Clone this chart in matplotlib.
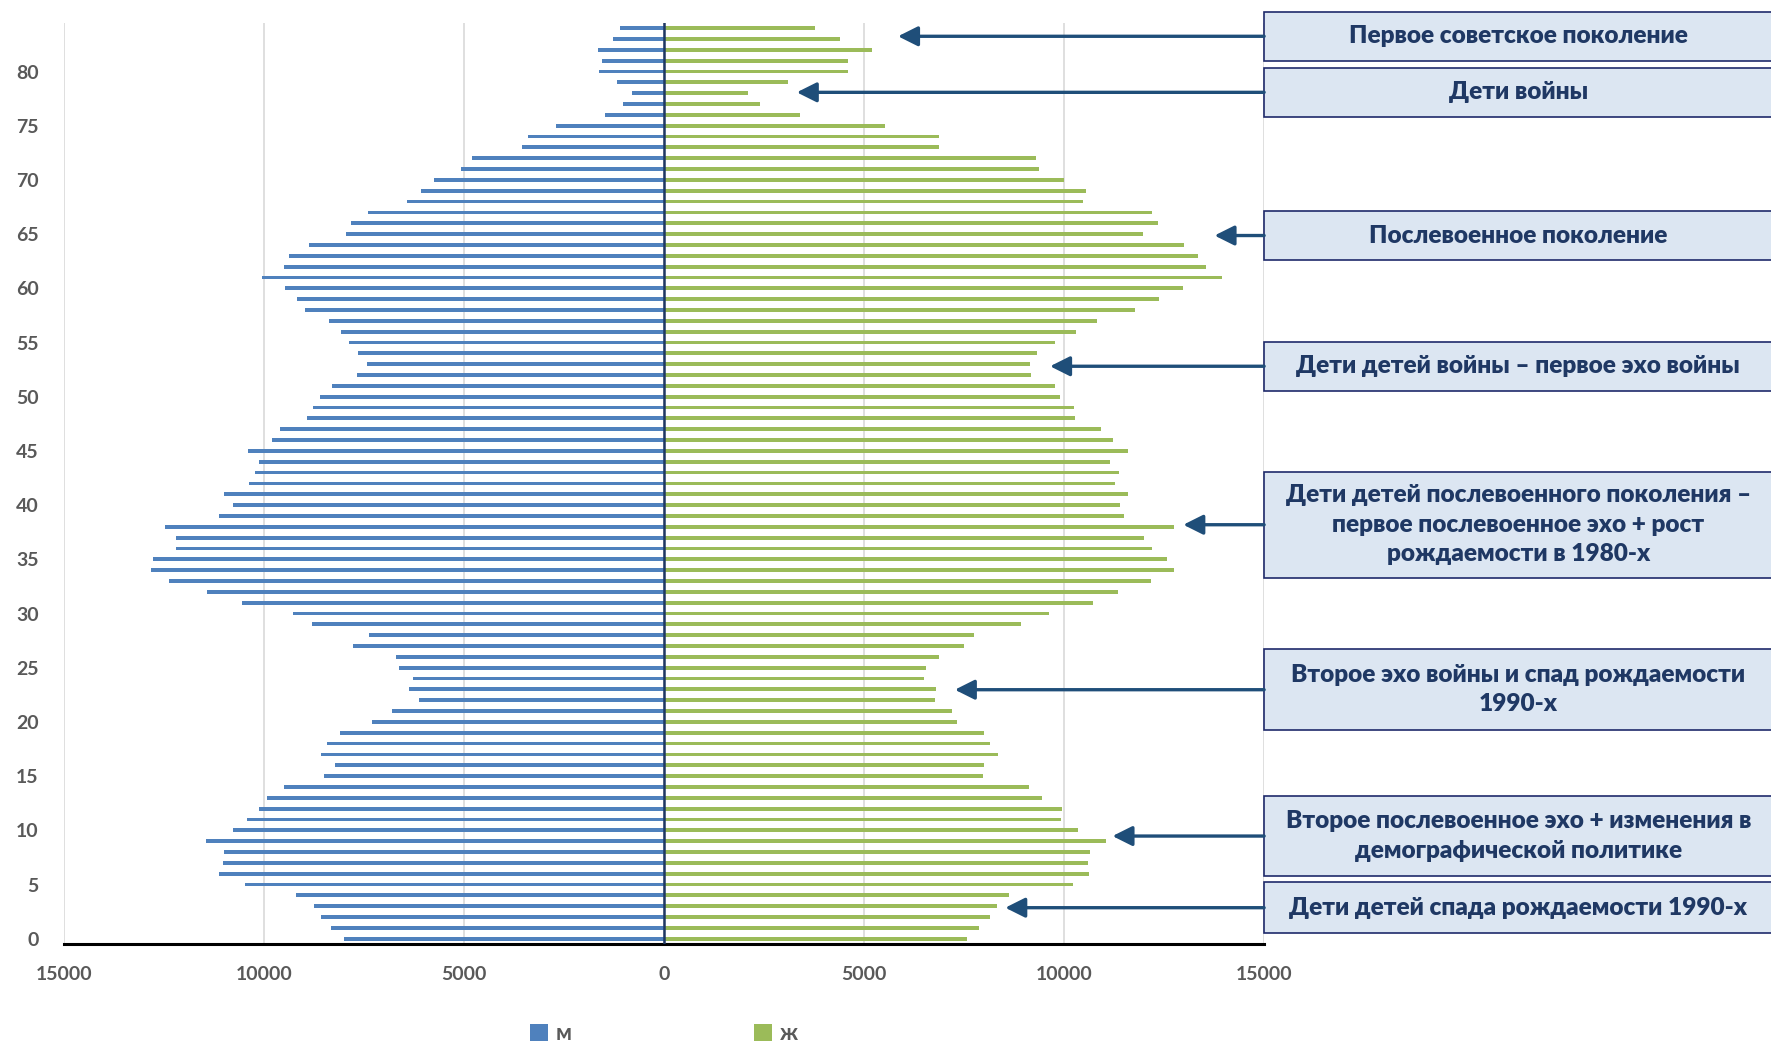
import matplotlib.pyplot as plt
from matplotlib.patches import Rectangle

plt.rcParams['font.family'] = ['Lato', 'Noto Sans', 'DejaVu Sans']

ages = list(range(85))

# численность по полу, возраст 0..84
male = [8000, 8320, 8580, 8740, 9190, 10470, 11110, 11010, 10990, 11440,
        10760, 10410, 10120, 9910, 9490, 8500, 8220, 8580, 8420, 8090,
        7300, 6800, 6130, 6360, 6270, 6620, 6690, 7780, 7360, 8800,
        9260, 10540, 11410, 12360, 12820, 12760, 12200, 12190, 12460, 11130,
        10770, 10990, 10380, 10220, 10130, 10390, 9800, 9590, 8930, 8770,
        8600, 8290, 7680, 7420, 7650, 7880, 8060, 8380, 8980, 9160,
        9480, 10050, 9490, 9370, 8860, 7940, 7810, 7390, 6410, 6080,
        5740, 5080, 4800, 3550, 3400, 2700, 1480, 1020, 800, 1180,
        1630, 1550, 1650, 1280, 1100]
female = [7580, 7880, 8150, 8330, 8620, 10220, 10620, 10590, 10640, 11050,
          10360, 9930, 9960, 9440, 9130, 7970, 8010, 8350, 8160, 8010,
          7320, 7200, 6780, 6790, 6510, 6550, 6880, 7490, 7760, 8930,
          9620, 10720, 11350, 12160, 12740, 12580, 12200, 12000, 12740, 11490,
          11390, 11610, 11270, 11370, 11150, 11590, 11230, 10930, 10280, 10250,
          9910, 9770, 9180, 9140, 9320, 9780, 10290, 10820, 11780, 12370,
          12960, 13950, 13540, 13340, 13000, 11960, 12340, 12200, 10470, 10540,
          10010, 9380, 9290, 6880, 6880, 5520, 3400, 2390, 2100, 3110,
          4610, 4600, 5210, 4410, 3780]

labels = [
    'Первое советское поколение',
    'Дети войны',
    'Послевоенное поколение',
    'Дети детей войны – первое эхо войны',
    'Дети детей послевоенного поколения –\nпервое послевоенное эхо + рост\nрождаемости в 1980-х',
    'Второе эхо войны и спад рождаемости\n1990-х',
    'Второе послевоенное эхо + изменения в\nдемографической политике',
    'Дети детей спада рождаемости 1990-х',
]
# (центр по возрасту, половина высоты рамки, куда указывает стрелка)
callouts = [(83.25, 2.27, 5850), (78.08, 2.27, 3320), (64.87, 2.27, 13760),
            (52.81, 2.26, 9650), (38.19, 4.89, 12980), (22.97, 3.72, 7270),
            (9.47, 3.69, 11210), (2.86, 2.33, 8530)]

blue = '#4F81BD'
green = '#9BBB59'
navy = '#1F4E79'
grey = '#595959'

fig = plt.figure(figsize=(17.71, 10.43), dpi=100)
ax = fig.add_axes([0.036, 0.0948, 0.6778, 0.8834])

ax.barh(ages, [-v for v in male], height=0.35, color=blue, label='м', zorder=2)
ax.barh(ages, female, height=0.35, color=green, label='ж', zorder=2)

ax.set_xlim(-15000, 15000)
ax.set_ylim(-0.5, 84.5)
ax.set_xticks(range(-15000, 15001, 5000))
ax.set_xticklabels([str(abs(t)) for t in range(-15000, 15001, 5000)])
ax.set_yticks(range(0, 81, 5))
ax.tick_params(length=0, labelsize=14, labelcolor=grey)
ax.tick_params(axis='x', pad=16)
ax.tick_params(axis='y', pad=18)
for lab in ax.get_xticklabels() + ax.get_yticklabels():
    lab.set_fontweight('bold')

ax.grid(axis='x', color='#D9D9D9', lw=1.2, zorder=0)
ax.set_axisbelow(True)
for s in ['top', 'right', 'left']:
    ax.spines[s].set_visible(False)
ax.spines['bottom'].set_color('black')
ax.spines['bottom'].set_linewidth(2.2)
ax.axvline(0, color='#1F3864', lw=1.8, zorder=3)

for text, (yc, hh, tip) in zip(labels, callouts):
    ax.add_patch(Rectangle((15000, yc - hh), 13000, 2 * hh, facecolor='#DCE6F2',
                           edgecolor='#1F2A6B', lw=1.2, clip_on=False, zorder=4))
    ax.text(21350, yc, text, ha='center', va='center', fontsize=17.6,
            fontweight='heavy', color='#1F3864', linespacing=1.42, zorder=5,
            clip_on=False)
    ax.annotate('', xy=(tip, yc), xytext=(15000, yc),
                arrowprops=dict(arrowstyle='-|>,head_length=0.6,head_width=0.3',
                                color=navy, lw=2.4, mutation_scale=20,
                                shrinkA=0, shrinkB=0),
                annotation_clip=False, zorder=5)

fig.legend(loc='center', bbox_to_anchor=(0.375, 0.009), ncol=2, frameon=False,
           handlelength=0.8, handleheight=0.8, handletextpad=0.35,
           columnspacing=8.2, prop={'weight': 'bold', 'size': 16},
           labelcolor=grey)

fig.savefig('out.png', dpi=100, facecolor='white')
